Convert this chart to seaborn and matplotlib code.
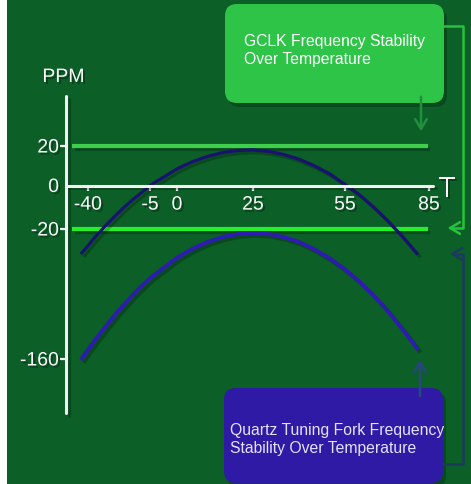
import numpy as np
import pandas as pd
import seaborn as sns
import matplotlib.pyplot as plt
import matplotlib.patheffects as pe
from matplotlib.patches import FancyBboxPatch

# data
temps = [-44, -40, -35, -30, -25, -20, -15, -10, -5, 0, 5, 10, 15, 20, 25,
         30, 35, 40, 45, 50, 55, 60, 65, 70, 75, 78, 81]
quartz_max = [-47, -38, -26.6, -18.4, -14.3, -10.3, -6.7, -3.4, 0, 8.4, 12, 14.7, 16.7, 17.7, 18,
              17.3, 15.7, 13.3, 10, 5.9, 0.5, -4.1, -9.7, -15.9, -26.5, -36.9, -47.5]
quartz_min = [-161, -150, -137, -125, -113, -102, -91.7, -82, -73, -51, -41.4, -34, -28.6, -25.4, -24.3,
              -25.4, -28.7, -34, -41.8, -51.6, -63.5, -76.3, -91, -107.4, -126, -137.6, -150]
gclk_span = [-49, 84.5]
gclk_limits = [20, -20]

x_ticks = [-40, -5, 0, 25, 55, 85]
y_ticks = [-160, -20, 0, 20]

# the axes are drawn schematically, so tick values sit at uneven pixel spots
x_tick_px = [88, 150, 177, 253, 345, 429]
y_tick_px = [360, 230, 186.5, 147]

BG = "#0b5f27"
AXIS = "#f2f2f2"


def piecewise(vals, px):
    def make(a, b):
        a, b = np.asarray(a, float), np.asarray(b, float)
        lo = (b[1] - b[0]) / (a[1] - a[0])
        hi = (b[-1] - b[-2]) / (a[-1] - a[-2])

        def f(v):
            v = np.asarray(v, float)
            out = np.interp(v, a, b)
            out = np.where(v < a[0], b[0] + (v - a[0]) * lo, out)
            return np.where(v > a[-1], b[-1] + (v - a[-1]) * hi, out)
        return f
    return make(vals, px), make(px, vals)


fx, ix = piecewise(x_ticks, x_tick_px)
fy, iy = piecewise(y_ticks, [-p for p in y_tick_px])

plt.rcParams["font.family"] = ["Liberation Sans", "DejaVu Sans"]

shadow = [pe.SimpleLineShadow(offset=(2, -2), shadow_color="black", alpha=0.22), pe.Normal()]
tshadow = [pe.SimplePatchShadow(offset=(1.5, -1.5), shadow_rgbFace="black", alpha=0.3), pe.Normal()]

fig = plt.figure(figsize=(4.71, 4.85), dpi=100, facecolor="white")
ax = fig.add_axes([7 / 471, 0, 464 / 471, 1])
ax.set_facecolor(BG)
ax.set_xscale("function", functions=(fx, ix))
ax.set_yscale("function", functions=(fy, iy))
ax.set_xlim(float(ix(7)), float(ix(471)))
ax.set_ylim(float(iy(-485)), float(iy(0)))

for s in ["top", "right"]:
    ax.spines[s].set_visible(False)
ax.spines["left"].set_position(("data", float(ix(66))))
ax.spines["left"].set_bounds(float(iy(-414)), float(iy(-97)))
ax.spines["bottom"].set_position(("data", 0))
ax.spines["bottom"].set_bounds(float(ix(66)), float(ix(433)))
for s in ["left", "bottom"]:
    ax.spines[s].set_color(AXIS)
    ax.spines[s].set_linewidth(2.2)
    ax.spines[s].set_capstyle("round")
    ax.spines[s].set_path_effects(shadow)

ax.set_xticks(x_ticks, labels=[str(t) for t in x_ticks])
ax.set_yticks(y_ticks, labels=[str(t) for t in y_ticks])
ax.tick_params(axis="x", direction="out", length=3.5, width=1.6, color=AXIS,
               labelcolor="white", labelsize=14, pad=4.5)
ax.tick_params(axis="y", direction="out", length=4, width=1.6, color=AXIS,
               labelcolor="white", labelsize=14, pad=1)
ax.yaxis.get_major_ticks()[2].tick1line.set_visible(False)
for lab in ax.get_xticklabels() + ax.get_yticklabels():
    lab.set_path_effects(tshadow)

# GCLK limits
for lim, col in zip(gclk_limits, ["#3fcf4c", "#25ee2a"]):
    sns.lineplot(x=gclk_span, y=[lim, lim], ax=ax, color=col, lw=3,
                 solid_capstyle="butt", path_effects=shadow)

# quartz tuning fork curves
sns.lineplot(x=temps, y=quartz_max, ax=ax, color="#1a1170", lw=2.3,
             errorbar=None, solid_capstyle="butt", path_effects=shadow)
sns.lineplot(x=temps, y=quartz_min, ax=ax, color="#2e1cb0", lw=2.8,
             errorbar=None, solid_capstyle="butt", path_effects=shadow)
ax.set(xlabel="", ylabel="")

# overlay in pixel units for labels and callouts
ov = fig.add_axes([0, 0, 1, 1])
ov.set_xlim(0, 471)
ov.set_ylim(485, 0)
ov.axis("off")
ov.patch.set_alpha(0)

ov.text(63.5, 83, "PPM", ha="center", va="baseline", fontsize=14, color="white",
        path_effects=tshadow)
ov.text(447, 198, "T", ha="center", va="baseline", fontsize=21, color="white",
        path_effects=tshadow)

boxes = [
    ((225, 5), 219, 99, "#2dc447", "white",
     [(244, 46, "GCLK Frequency Stability"), (244, 64, "Over Temperature")]),
    ((224, 389), 219, 95, "#2e1aa5", "#e4e2ff",
     [(230, 435, "Quartz Tuning Fork Frequency"), (230, 453, "Stability Over Temperature")]),
]
for (x0, y0), w, h, fc, tc, lines in boxes:
    ov.add_patch(FancyBboxPatch((x0 + 3, y0 + 4), w, h, boxstyle="round,pad=0,rounding_size=12",
                                fc="black", ec="none", alpha=0.22))
    ov.add_patch(FancyBboxPatch((x0, y0), w, h, boxstyle="round,pad=0,rounding_size=12",
                                fc=fc, ec="none"))
    for tx, ty, s in lines:
        ov.text(tx, ty, s, ha="left", va="baseline", fontsize=11.3, color=tc)

# callout connectors
head = "->,head_length=0.5,head_width=0.3"
ov.plot([444, 463, 463, 452], [27, 27, 229, 229], color="#27c23d", lw=1.8)
ov.annotate("", xy=(445, 229), xytext=(455, 229),
            arrowprops=dict(arrowstyle=head, color="#27c23d", lw=1.8, mutation_scale=14))
ov.annotate("", xy=(421, 135), xytext=(421, 95),
            arrowprops=dict(arrowstyle=head, color="#21903c", lw=1.8, mutation_scale=14))
ov.plot([443, 463, 463, 454], [465, 465, 255, 255], color="#1d3a5e", lw=1.8)
ov.annotate("", xy=(447, 255), xytext=(457, 255),
            arrowprops=dict(arrowstyle=head, color="#1d3a5e", lw=1.8, mutation_scale=14))
ov.annotate("", xy=(420, 358), xytext=(420, 400),
            arrowprops=dict(arrowstyle=head, color="#27477e", lw=1.8, mutation_scale=14))

fig.savefig("out.png", dpi=100, facecolor=fig.get_facecolor())
